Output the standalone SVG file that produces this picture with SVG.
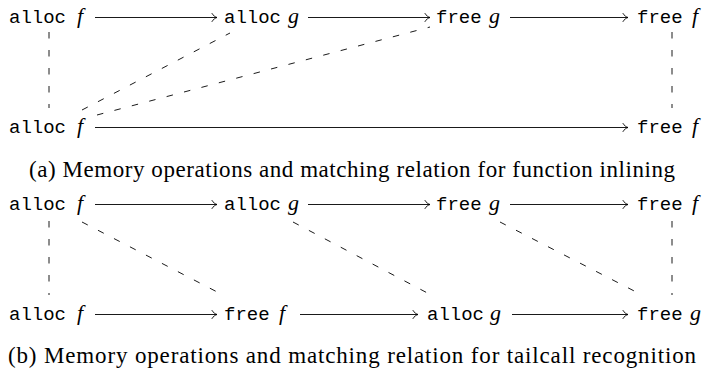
<svg xmlns="http://www.w3.org/2000/svg" width="704" height="374" viewBox="0 0 704 374">
<defs>
<style>
.tt{font-family:"Liberation Mono","DejaVu Sans Mono",monospace;font-size:19px;fill:#000}
.m{font-family:"Liberation Serif","DejaVu Serif",serif;font-style:italic;font-size:22px;fill:#000}
.cap{font-family:"Liberation Serif","DejaVu Serif",serif;font-size:23px;fill:#000}
.arr{stroke:#000;stroke-width:0.9;fill:none;marker-end:url(#to)}
.match{stroke:#000;stroke-width:0.9;fill:none;stroke-dasharray:6.5 11.5}
</style>
<marker id="to" viewBox="-6 -5 7 10" markerWidth="7" markerHeight="10" refX="0" refY="0" orient="auto" markerUnits="userSpaceOnUse">
<path d="M-5,-4 C-4,-2 -1.5,-0.4 0,0 C-1.5,0.4 -4,2 -5,4" fill="none" stroke="#000" stroke-width="0.9" stroke-linecap="round"/>
</marker>
</defs>

<!-- (a) function inlining -->
<g id="a-top-alloc-f"><text y="23"><tspan class="tt" x="9">alloc</tspan><tspan class="m" x="77">f</tspan></text></g>
<g id="a-top-alloc-g"><text y="23"><tspan class="tt" x="224">alloc</tspan><tspan class="m" x="288">g</tspan></text></g>
<g id="a-top-free-g"><text y="23"><tspan class="tt" x="436">free</tspan><tspan class="m" x="489">g</tspan></text></g>
<g id="a-top-free-f"><text y="23"><tspan class="tt" x="637">free</tspan><tspan class="m" x="692">f</tspan></text></g>
<g id="a-bot-alloc-f"><text y="133"><tspan class="tt" x="9">alloc</tspan><tspan class="m" x="77">f</tspan></text></g>
<g id="a-bot-free-f"><text y="133"><tspan class="tt" x="637">free</tspan><tspan class="m" x="692">f</tspan></text></g>

<g id="a-connectors">
<line class="arr" x1="95" y1="17.5" x2="217" y2="17.5"/>
<line class="arr" x1="308" y1="17.5" x2="430" y2="17.5"/>
<line class="arr" x1="510" y1="17.5" x2="628" y2="17.5"/>
<line class="arr" x1="95" y1="127.5" x2="628" y2="127.5"/>
<line class="match" x1="49" y1="32" x2="49" y2="108"/>
<line class="match" x1="672" y1="32" x2="672" y2="108"/>
<line class="match" x1="82" y1="110" x2="230" y2="33"/>
<line class="match" x1="97" y1="115" x2="430" y2="27"/>
</g>

<g id="caption-a"><text class="cap" x="352" y="177" text-anchor="middle" textLength="646">(a) Memory operations and matching relation for function inlining</text></g>

<!-- (b) tailcall recognition -->
<g id="b-top-alloc-f"><text y="210"><tspan class="tt" x="9">alloc</tspan><tspan class="m" x="77">f</tspan></text></g>
<g id="b-top-alloc-g"><text y="210"><tspan class="tt" x="224">alloc</tspan><tspan class="m" x="288">g</tspan></text></g>
<g id="b-top-free-g"><text y="210"><tspan class="tt" x="436">free</tspan><tspan class="m" x="489">g</tspan></text></g>
<g id="b-top-free-f"><text y="210"><tspan class="tt" x="637">free</tspan><tspan class="m" x="692">f</tspan></text></g>
<g id="b-bot-alloc-f"><text y="320"><tspan class="tt" x="9">alloc</tspan><tspan class="m" x="77">f</tspan></text></g>
<g id="b-bot-free-f"><text y="320"><tspan class="tt" x="224">free</tspan><tspan class="m" x="279">f</tspan></text></g>
<g id="b-bot-alloc-g"><text y="320"><tspan class="tt" x="427">alloc</tspan><tspan class="m" x="490">g</tspan></text></g>
<g id="b-bot-free-g"><text y="320"><tspan class="tt" x="637">free</tspan><tspan class="m" x="690">g</tspan></text></g>

<g id="b-connectors">
<line class="arr" x1="95" y1="204.5" x2="217" y2="204.5"/>
<line class="arr" x1="308" y1="204.5" x2="430" y2="204.5"/>
<line class="arr" x1="510" y1="204.5" x2="628" y2="204.5"/>
<line class="arr" x1="95" y1="314.5" x2="217" y2="314.5"/>
<line class="arr" x1="300" y1="314.5" x2="418" y2="314.5"/>
<line class="arr" x1="512" y1="314.5" x2="628" y2="314.5"/>
<line class="match" x1="49" y1="221" x2="49" y2="295"/>
<line class="match" x1="672" y1="221" x2="672" y2="295"/>
<line class="match" x1="82" y1="222" x2="223" y2="295"/>
<line class="match" x1="293" y1="222" x2="435" y2="297"/>
<line class="match" x1="500" y1="222" x2="642" y2="295"/>
</g>

<g id="caption-b"><text class="cap" x="352" y="363" text-anchor="middle" textLength="688">(b) Memory operations and matching relation for tailcall recognition</text></g>
</svg>
